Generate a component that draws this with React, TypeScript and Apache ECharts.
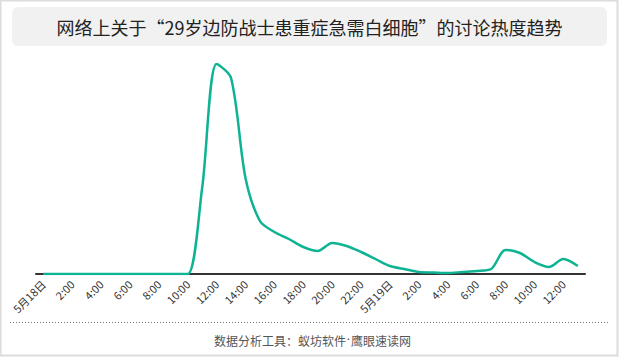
import React, { useEffect, useRef } from "react";
import * as echarts from "echarts";

const TITLE = "网络上关于“29岁边防战士患重症急需白细胞”的讨论热度趋势";
const FOOTER_LEFT = "数据分析工具：蚁坊软件";
const FOOTER_RIGHT = "鹰眼速读网";

const day1Hours: string[] = ["5月18日", "1:00", "2:00", "3:00", "4:00", "5:00", "6:00", "7:00", "8:00", "9:00", "10:00", "11:00", "12:00", "13:00", "14:00", "15:00", "16:00", "17:00", "18:00", "19:00", "20:00", "21:00", "22:00", "23:00"];
const day2Hours: string[] = ["5月19日", "1:00", "2:00", "3:00", "4:00", "5:00", "6:00", "7:00", "8:00", "9:00", "10:00", "11:00", "12:00", "13:00"];
const categories: string[] = [...day1Hours, ...day2Hours];

const day1Heat: number[] = [0, 0, 0, 0, 0, 0, 0, 0, 0, 0, 0, 86, 210, 196, 96, 53, 42, 35, 27, 23, 31, 28, 22, 15];
const day2Heat: number[] = [8, 5, 2, 1.5, 1, 2, 3, 5, 24, 21, 12, 7, 15, 8];
const heat: number[] = [...day1Heat, ...day2Heat];

const FONT = "'Noto Sans CJK SC', 'Noto Sans', sans-serif";

export default function App() {
  const ref = useRef<HTMLDivElement>(null);
  useEffect(() => {
    document.body.style.margin = "0";
    const chart = echarts.init(ref.current!, null, { renderer: "svg" });
    chart.setOption({
      animation: false,
      backgroundColor: "#ffffff",
      textStyle: { fontFamily: FONT },
      grid: { left: 36, right: 34, top: 64, bottom: 83 },
      xAxis: {
        type: "category",
        data: categories,
        boundaryGap: true,
        axisLine: { lineStyle: { color: "#333333", width: 2 } },
        axisTick: { show: false },
        axisLabel: { interval: 1, rotate: 45, color: "#333333", fontSize: 11, fontFamily: FONT, margin: 8 },
      },
      yAxis: {
        type: "value",
        min: 0,
        max: 210,
        show: false,
        splitLine: { show: false },
      },
      series: [
        {
          type: "line",
          data: heat,
          smooth: 0.3,
          showSymbol: false,
          lineStyle: { color: "#0db393", width: 2.5 },
          itemStyle: { color: "#0db393" },
        },
      ],
      graphic: [
        {
          type: "rect",
          shape: { x: 0.5, y: 0.5, width: 617, height: 355 },
          style: { fill: "none", stroke: "#dcdcdc", lineWidth: 2 },
          silent: true,
        },
        {
          type: "rect",
          shape: { x: 12, y: 7, width: 595, height: 39, r: 6 },
          style: { fill: "#f1f1f1" },
          silent: true,
        },
        {
          type: "text",
          x: 309.5,
          y: 26.5,
          style: { text: TITLE, fill: "#222222", font: `18px ${FONT}`, align: "center", verticalAlign: "middle" },
          silent: true,
        },
        {
          type: "line",
          shape: { x1: 10, y1: 322.5, x2: 608, y2: 322.5 },
          style: { stroke: "#777777", lineWidth: 1, lineDash: [1, 2] },
          silent: true,
        },
        {
          type: "text",
          x: 346,
          y: 340,
          style: { text: FOOTER_LEFT, fill: "#555555", font: `12px ${FONT}`, align: "right", verticalAlign: "middle" },
          silent: true,
        },
        {
          type: "text",
          x: 348.5,
          y: 340,
          style: { text: "·", fill: "#555555", font: `12px 'DejaVu Sans', sans-serif`, align: "center", verticalAlign: "middle" },
          silent: true,
        },
        {
          type: "text",
          x: 351,
          y: 340,
          style: { text: FOOTER_RIGHT, fill: "#555555", font: `12px ${FONT}`, align: "left", verticalAlign: "middle" },
          silent: true,
        },
      ],
    });
    return () => chart.dispose();
  }, []);
  return <div ref={ref} style={{ width: 619, height: 357 }} />;
}
